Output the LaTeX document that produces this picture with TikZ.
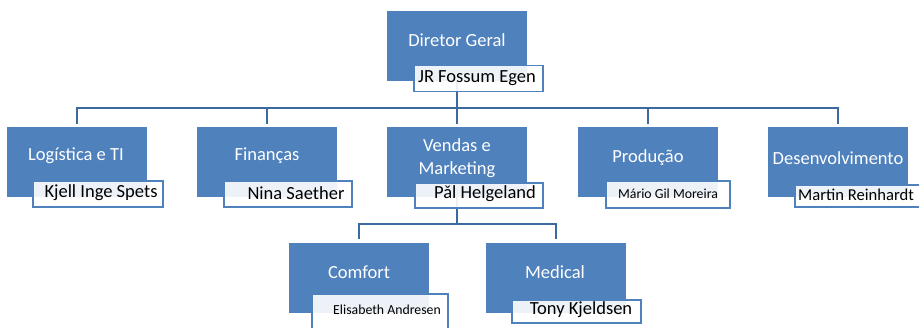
\documentclass[tikz,border=0pt]{standalone}
\usepackage{fontspec}
\setmainfont{Carlito}
\usetikzlibrary{backgrounds}

\definecolor{unitblue}{HTML}{4F81BD}
\definecolor{linkblue}{HTML}{3D6A9E}

\tikzset{
  unit/.style={rectangle, fill=unitblue, minimum width=140pt, minimum height=70pt, inner sep=0pt},
  head/.style={rectangle, draw=unitblue, line width=1.3pt, fill=white, fill opacity=0.9, inner sep=0pt, minimum height=26pt},
  title/.style={text=white, font=\fontsize{18.5}{23}\selectfont, inner sep=0pt},
  who/.style={text=black, font=\fontsize{18.5}{23}\selectfont, inner sep=0pt},
  whosmall/.style={text=black, font=\fontsize{13.8}{16}\selectfont, inner sep=0pt},
  link/.style={draw=linkblue, line width=2pt},
}

\begin{document}
\begin{tikzpicture}[x=1pt, y=-1pt]
\useasboundingbox (0,0) rectangle (919,327);
\clip (0,0) rectangle (919,327);

% diretor
\node[unit] (dg) at (457,45.5) {};
\node[title] (dg-t) at (457,40) {Diretor Geral};
\node[head, minimum width=129pt] (dg-h) at (478.5,78.5) {};
\node[who] (dg-n) at (477,78) {JR Fossum Egen};

% departamentos
\node[unit] (log) at (77,162) {};
\node[unit] (fin) at (267,162) {};
\node[unit] (ven) at (457,162) {};
\node[unit] (pro) at (648,162) {};
\node[unit] (des) at (838,162) {};
\node[title] (log-t) at (76,156) {Logística e TI};
\node[title] (fin-t) at (267,156) {Finanças};
\node[title, align=center] (ven-t) at (457,158.5) {Vendas e\\Marketing};
\node[title] (pro-t) at (648,158) {Produção};
\node[title] (des-t) at (838,158) {Desenvolvimento};

\node[head, minimum width=130pt] (log-h) at (98,194) {};
\node[head, minimum width=128pt] (fin-h) at (288,194) {};
\node[head, minimum width=128pt, minimum height=25pt] (ven-h) at (479,195.5) {};
\node[head, minimum width=124pt, minimum height=27pt] (pro-h) at (668,194.5) {};
\node[head, minimum width=130pt, minimum height=22pt] (des-h) at (860,196) {};
\node[who] (log-n) at (101,193) {Kjell Inge Spets};
\node[who] (fin-n) at (296,193) {Nina Saether};
\node[who] (ven-n) at (485,194) {Pǎl Helgeland};
\node[whosmall] (pro-n) at (668,194) {Mário Gil Moreira};
\node[who, font=\fontsize{16.6}{20}\selectfont, anchor=west] (des-n) at (798,195) {Martin Reinhardt};

% vendas e marketing
\node[unit] (com) at (359,278) {};
\node[unit] (med) at (555.5,278) {};
\node[title] (com-t) at (359,272) {Comfort};
\node[title] (med-t) at (555,272) {Medical};
\node[head, minimum width=136pt, minimum height=41pt] (com-h) at (380,314.5) {};
\node[head, minimum width=129pt, minimum height=23pt] (med-h) at (576.5,311.5) {};
\node[whosmall] (com-n) at (387,310) {Elisabeth Andresen};
\node[who] (med-n) at (581,310) {Tony Kjeldsen};

% ligacoes
\begin{scope}[on background layer]
\coordinate (top-bus) at (457,108);
\coordinate (ven-bus) at (457,224);
\draw[link] (dg.south) -- (top-bus);
\foreach \u in {log,fin,ven,pro,des}
  \draw[link, shorten >=3pt] (top-bus) -| (\u.north);
\draw[link] (ven.south) -- (ven-bus);
\foreach \u in {com,med}
  \draw[link, shorten >=4pt] (ven-bus) -| (\u.north);
\end{scope}
\end{tikzpicture}
\end{document}
